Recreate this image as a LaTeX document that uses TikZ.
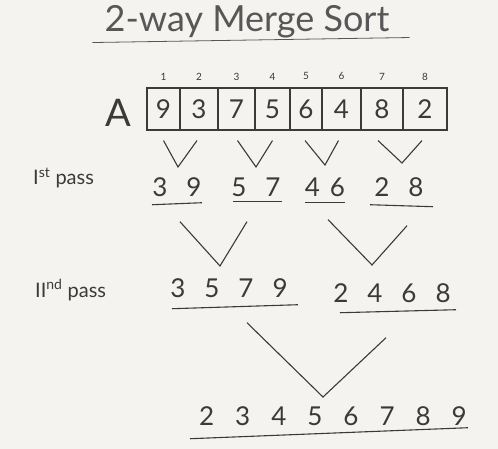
\documentclass[tikz,border=0pt]{standalone}
\usepackage{fontspec}
\setmainfont{Lato}
\usepackage{xcolor}
\usepackage{tikz}

\definecolor{ink}{HTML}{3A3A3A}
\definecolor{paper}{HTML}{F4F3EF}
\newcommand{\dgap}{\hspace{19pt}}
\newcommand{\fgap}{\hspace{21pt}}

\tikzset{
  digits/.style={text=ink, font=\fontsize{26}{28}\selectfont, inner sep=0pt},
  cell/.style={draw=ink, line width=1.1pt, minimum height=42pt,
    inner sep=0pt, text=ink, font=\fontsize{26}{28}\selectfont},
  idx/.style={text=ink, font=\fontsize{10}{12}\selectfont, inner sep=0pt},
  passlabel/.style={text=ink, font=\fontsize{20}{22}\selectfont, inner sep=0pt, anchor=west},
  merge/.style={draw=ink, line width=1.1pt},
  rule/.style={draw=ink, line width=1.1pt},
}

\begin{document}
\begin{tikzpicture}[x=1pt, y=-1pt]
            % Paper
            \fill[paper] (0,0) rectangle (498,449);

            % Title
            \node[text=ink!85, font=\fontsize{36}{40}\selectfont, inner sep=0pt] (title) at (247,22) {2-way Merge Sort};
            \draw[rule, ink!85, line width=0.8pt] ([shift={(-12,4)}]title.south west) -- ([shift={(20,-1)}]title.south east);

            % Array
            \node[text=ink, font=\fontsize{38}{40}\selectfont, inner sep=0pt] (A) at (118,113) {A};
            \foreach \v/\l/\r [count=\i] in {9/147/180, 3/180/218, 7/218/255, 5/255/290,
                                           6/290/322, 4/322/361, 8/361/403, 2/403/447} {
                \node[cell, minimum width={(\r-\l)*1pt}] (c\i) at ({(\l+\r)/2}, 109) {\v};
                \node[idx] (i\i) at ([yshift=11pt]c\i.north) {\i};
            }

            % Pass labels
            \node[passlabel] (l1) at (33,178) {I\textsuperscript{st} pass};
            \node[passlabel] (l2) at (35,290) {II\textsuperscript{nd} pass};

            % 1st pass
            \node[digits] (p1) at (177,187) {3\dgap 9};
            \node[digits] (p2) at (256,187) {5\dgap 7};
            \node[digits] (p3) at (325,187) {4\hspace{10pt}6};
            \node[digits] (p4) at (399,187) {2\dgap 8};
            \draw[rule] ([shift={(-25,8)}]p1.south) -- ([shift={(25,6)}]p1.south);
            \draw[rule] ([shift={(-23,5)}]p2.south) -- ([shift={(26,5)}]p2.south);
            \draw[rule] ([shift={(-20,6)}]p3.south) -- ([shift={(20,6)}]p3.south);
            \draw[rule] ([shift={(-29,8)}]p4.south) -- ([shift={(34,10)}]p4.south);

            % 2nd pass
            \node[digits] (q1) at (229,288) {3\dgap 5\dgap 7\dgap 9};
            \node[digits] (q2) at (392,293) {2\dgap 4\dgap 6\dgap 8};
            \draw[rule] ([shift={(-57,11)}]q1.south) -- ([shift={(69,7)}]q1.south);
            \draw[rule] ([shift={(-52,10)}]q2.south) -- ([shift={(64,7)}]q2.south);

            % Sorted
            \node[digits] (s) at (333,416) {2\fgap 3\fgap 4\fgap 5\fgap 6\fgap 7\fgap 8\fgap 9};
            \draw[rule] ([shift={(-143,13)}]s.south) -- ([shift={(135,2)}]s.south);

            % Merges
            \coordinate (j1) at (178,167);
            \coordinate (j2) at (256,167);
            \coordinate (j3) at (325,165);
            \coordinate (j4) at (402,163);
            \draw[merge] ([shift={(0,10)}]c1.south) -- (j1) -- ([shift={(-2,10)}]c2.south);
            \draw[merge] ([shift={(1,10)}]c3.south) -- (j2) -- ([shift={(0,10)}]c4.south);
            \draw[merge] ([shift={(-1,10)}]c5.south) -- (j3) -- ([shift={(-3,10)}]c6.south);
            \draw[merge] ([shift={(-4,10)}]c7.south) -- (j4) -- ([shift={(-3,10)}]c8.south);
            \coordinate (k1) at (220,266);
            \coordinate (k2) at (372,265);
            \draw[merge] ([shift={(3,25)}]p1.south) -- (k1) -- ([shift={(-9,25)}]p2.south);
            \draw[merge] ([shift={(3,23)}]p3.south) -- (k2) -- ([shift={(8,29)}]p4.south);
            \coordinate (m) at (323,397);
            \draw[merge] ([shift={(18,25)}]q1.south) -- (m) -- ([shift={(-6,35)}]q2.south);
\end{tikzpicture}
\end{document}
